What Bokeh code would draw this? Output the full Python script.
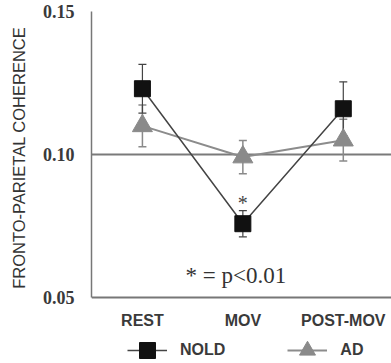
from bokeh.plotting import figure
from bokeh.models import (ColumnDataSource, Whisker, TeeHead, Span, Label, Legend, LegendItem,
                          FixedTicker, Range1d)
from bokeh.embed import file_html
from bokeh.resources import INLINE

categories = ["REST", "MOV", "POST-MOV"]
x_pos = [1, 2, 3]
nold_mean = [0.123, 0.0758, 0.116]
nold_se = [0.0085, 0.0046, 0.0094]
ad_mean = [0.110, 0.0991, 0.105]
ad_se = [0.0073, 0.0058, 0.0073]
y_ticks = [0.05, 0.10, 0.15]
y_tick_labels = ["0.05", "0.10", "0.15"]
ref_level = 0.10
y_axis_min, y_axis_max = 0.05, 0.15

nold = ColumnDataSource(dict(x=x_pos, y=nold_mean,
                             lo=[m - s for m, s in zip(nold_mean, nold_se)],
                             hi=[m + s for m, s in zip(nold_mean, nold_se)]))
ad = ColumnDataSource(dict(x=x_pos, y=ad_mean,
                           lo=[m - s for m, s in zip(ad_mean, ad_se)],
                           hi=[m + s for m, s in zip(ad_mean, ad_se)]))

# frame extends below the axis so the legend can sit under the x labels
p = figure(width=391, height=363, output_backend="svg", toolbar_location=None,
           x_range=Range1d(0.493, 3.48), y_range=Range1d(0.02692, 0.15),
           min_border_left=91, min_border_right=0, min_border_top=11, min_border_bottom=0)
p.outline_line_color = None
p.xgrid.visible = False
p.ygrid.visible = False
p.background_fill_color = "white"
p.border_fill_color = "white"

p.add_layout(Span(location=ref_level, dimension="width", line_color="#7a7a7a",
                  line_width=2, level="underlay"))

GRAY = "#8a8a8a"

# AD series
ad_w = Whisker(source=ad, base="x", upper="hi", lower="lo", dimension="height",
               line_color=GRAY, line_width=1.5,
               upper_head=TeeHead(size=8, line_color=GRAY, line_width=1.5),
               lower_head=TeeHead(size=8, line_color=GRAY, line_width=1.5))
p.add_layout(ad_w)
ad_line = p.line("x", "y", source=ad, line_color="#8c8c8c", line_width=2)
ad_pts = p.scatter("x", "y", source=ad, marker="triangle", size=20,
                   fill_color=GRAY, line_color=GRAY)

# NOLD series
nold_w = Whisker(source=nold, base="x", upper="hi", lower="lo", dimension="height",
                 line_color="#444", line_width=1.2,
                 upper_head=TeeHead(size=8, line_color="#444", line_width=1.2),
                 lower_head=TeeHead(size=8, line_color="#444", line_width=1.2))
p.add_layout(nold_w)
nold_line = p.line("x", "y", source=nold, line_color="#444444", line_width=1.5)
nold_pts = p.scatter("x", "y", source=nold, marker="square", size=16,
                     fill_color="#111111", line_color="#111111")

# axes
p.xaxis.fixed_location = y_axis_min
p.yaxis.bounds = (y_axis_min, y_axis_max)
p.xaxis.ticker = FixedTicker(ticks=x_pos)
p.xaxis.major_label_overrides = {x: c for x, c in zip(x_pos, categories)}
p.yaxis.ticker = FixedTicker(ticks=y_ticks)
p.yaxis.major_label_overrides = {t: s for t, s in zip(y_ticks, y_tick_labels)}
for ax in (p.xaxis[0], p.yaxis[0]):
    ax.axis_line_color = "#777777"
    ax.major_tick_line_color = None
    ax.minor_tick_line_color = None
p.xaxis.axis_line_width = 2
p.yaxis.axis_line_width = 1.5
p.xaxis.major_label_text_font = "Liberation Sans"
p.xaxis.major_label_text_font_style = "bold"
p.xaxis.major_label_text_font_size = "16px"
p.xaxis.major_label_text_color = "#3a3a3a"
p.xaxis.major_label_standoff = 9
p.yaxis.major_label_text_font = "Liberation Serif"
p.yaxis.major_label_text_font_style = "bold"
p.yaxis.major_label_text_font_size = "18px"
p.yaxis.major_label_text_color = "#3a3a3a"
p.yaxis.major_label_standoff = 11
# leading no-break spaces nudge the centred label up to sit beside the axis span
p.yaxis.axis_label = "\u00a0" * 13 + "FRONTO-PARIETAL COHERENCE"
p.yaxis.axis_label_text_font = "Liberation Sans"
p.yaxis.axis_label_text_font_style = "normal"
p.yaxis.axis_label_text_font_size = "16.5px"
p.yaxis.axis_label_text_color = "#333333"
p.yaxis.axis_label_standoff = 12

# significance annotations
p.add_layout(Label(x=2, y=0.0832, text="*", text_align="center", text_baseline="alphabetic",
                   text_font="Liberation Serif", text_font_size="20px", text_color="#444"))
p.add_layout(Label(x=1.93, y=0.0577, text="* = p<0.01", text_align="center",
                   text_baseline="alphabetic", text_font="Liberation Serif",
                   text_font_size="23px", text_color="#333"))

legend = Legend(items=[LegendItem(label="NOLD", renderers=[nold_line, nold_pts]),
                       LegendItem(label="AD", renderers=[ad_line, ad_pts])],
                orientation="horizontal", location=(36, -7),
                glyph_width=40, glyph_height=40, label_standoff=13,
                label_width=45, spacing=62, padding=0, margin=0,
                border_line_alpha=0, background_fill_alpha=0,
                label_text_font="Liberation Sans", label_text_font_style="bold",
                label_text_font_size="16px", label_text_color="#3a3a3a")
p.add_layout(legend)

open("out.html", "w").write(file_html(p, INLINE))
